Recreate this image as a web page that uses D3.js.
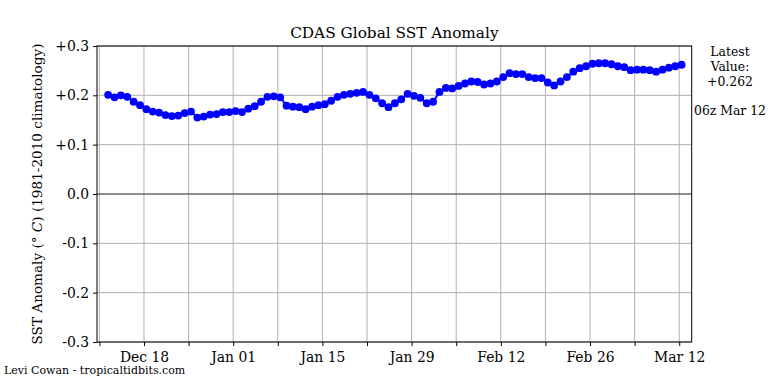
<!DOCTYPE html>
<html>
<head>
<meta charset="utf-8">
<script src="https://cdn.jsdelivr.net/npm/d3@7"></script>
<style>
  body { margin: 0; background: #fff; }
  text { font-family: "DejaVu Serif", serif; fill: #000; }
</style>
</head>
<body>
<svg id="chart" width="768" height="384"></svg>
<script>
// daily values, Dec 12 2018 -> Mar 12 2019
const startDate = "2018-12-12T09:00:00Z";
const anomalies = [
  0.201, 0.196, 0.200, 0.197, 0.187, 0.180, 0.172, 0.167, 0.165, 0.160,
  0.158, 0.159, 0.164, 0.167, 0.155, 0.157, 0.161, 0.162, 0.166, 0.166,
  0.168, 0.166, 0.173, 0.178, 0.187, 0.197, 0.198, 0.196, 0.179, 0.177,
  0.176, 0.172, 0.177, 0.180, 0.182, 0.189, 0.197, 0.201, 0.203, 0.205,
  0.207, 0.201, 0.194, 0.184, 0.176, 0.184, 0.192, 0.203, 0.199, 0.195,
  0.184, 0.187, 0.207, 0.215, 0.214, 0.219, 0.224, 0.228, 0.227, 0.222,
  0.224, 0.228, 0.237, 0.245, 0.243, 0.243, 0.237, 0.235, 0.235, 0.226,
  0.220, 0.228, 0.237, 0.248, 0.255, 0.259, 0.264, 0.265, 0.265, 0.263,
  0.259, 0.257, 0.251, 0.252, 0.252, 0.251, 0.248, 0.252, 0.256, 0.259,
  0.262
];
const yTicks = [-0.3, -0.2, -0.1, 0.0, 0.1, 0.2, 0.3];
const yTickLabels = ["-0.3", "-0.2", "-0.1", "0.0", "+0.1", "+0.2", "+0.3"];
const xTickDates = ["2018-12-11", "2018-12-18", "2018-12-25", "2019-01-01", "2019-01-08",
  "2019-01-15", "2019-01-22", "2019-01-29", "2019-02-05", "2019-02-12", "2019-02-19",
  "2019-02-26", "2019-03-05", "2019-03-12"];
const xTickLabels = ["", "Dec 18", "", "Jan 01", "", "Jan 15", "", "Jan 29", "", "Feb 12", "", "Feb 26", "", "Mar 12"];
const latestText = ["Latest", "Value:", "+0.262"];
const latestTime = "06z Mar 12";

const svg = d3.select("#chart");
const plotLeft = 97, plotRight = 691.7, plotTop = 46, plotBottom = 342;

const t0 = new Date(startDate);
const points = anomalies.map((v, i) => ({ date: new Date(t0.getTime() + i * 864e5), value: v }));

const x = d3.scaleUtc()
  .domain([new Date("2018-12-10T15:00:00Z"), new Date("2019-03-13T23:00:00Z")])
  .range([plotLeft, plotRight]);
const y = d3.scaleLinear().domain([-0.3, 0.3]).range([plotBottom, plotTop]);

// grid
const grid = svg.append("g").attr("stroke", "#b0b0b0").attr("stroke-width", 1);
grid.selectAll("line.v").data(xTickDates).join("line")
  .attr("x1", d => x(new Date(d))).attr("x2", d => x(new Date(d)))
  .attr("y1", plotTop).attr("y2", plotBottom);
grid.selectAll("line.h").data(yTicks).join("line")
  .attr("x1", plotLeft).attr("x2", plotRight)
  .attr("y1", d => y(d)).attr("y2", d => y(d));

// zero line
svg.append("line")
  .attr("x1", plotLeft).attr("x2", plotRight)
  .attr("y1", y(0)).attr("y2", y(0))
  .attr("stroke", "#444").attr("stroke-width", 1.2);

// axes
const xAxis = d3.axisBottom(x)
  .tickValues(xTickDates.map(d => new Date(d)))
  .tickFormat((d, i) => xTickLabels[i])
  .tickSizeOuter(0).tickSizeInner(4).tickPadding(6);
const gx = svg.append("g").attr("transform", `translate(0,${plotBottom})`).call(xAxis);
gx.select(".domain").remove();
gx.selectAll("text").style("font-size", "13.9px").style("font-family", "DejaVu Serif");

const yAxis = d3.axisLeft(y)
  .tickValues(yTicks)
  .tickFormat((d, i) => yTickLabels[i])
  .tickSizeOuter(0).tickSizeInner(4).tickPadding(4);
const gy = svg.append("g").attr("transform", `translate(${plotLeft},0)`).call(yAxis);
gy.select(".domain").remove();
gy.selectAll("text").style("font-size", "13.9px").style("font-family", "DejaVu Serif");

// series
const line = d3.line().x(d => x(d.date)).y(d => y(d.value));
svg.append("path").datum(points)
  .attr("fill", "none").attr("stroke", "#0000ff").attr("stroke-width", 2)
  .attr("d", line);
svg.append("g").selectAll("circle").data(points).join("circle")
  .attr("cx", d => x(d.date)).attr("cy", d => y(d.value))
  .attr("r", 3.9).attr("fill", "#0000ff");

// frame
svg.append("rect")
  .attr("x", plotLeft).attr("y", plotTop)
  .attr("width", plotRight - plotLeft).attr("height", plotBottom - plotTop)
  .attr("fill", "none").attr("stroke", "#000").attr("stroke-width", 1);

// title and labels
svg.append("text")
  .attr("x", (plotLeft + plotRight) / 2).attr("y", 38)
  .attr("text-anchor", "middle").style("font-size", "15.3px")
  .text("CDAS Global SST Anomaly");

const ylab = svg.append("text")
  .attr("transform", `translate(42,${(plotTop + plotBottom) / 2}) rotate(-90)`)
  .attr("text-anchor", "middle").style("font-size", "13.6px");
ylab.append("tspan").text("SST Anomaly (");
ylab.append("tspan").text("°");
ylab.append("tspan").text(" ");
ylab.append("tspan").style("font-style", "italic").text("C");
ylab.append("tspan").text(") (1981-2010 climatology)");

svg.append("g").selectAll("text").data(latestText).join("text")
  .attr("x", 730).attr("y", (d, i) => 56 + i * 15)
  .attr("text-anchor", "middle").style("font-size", "12.4px")
  .text(d => d);
svg.append("text")
  .attr("x", 730).attr("y", 115)
  .attr("text-anchor", "middle").style("font-size", "12.4px")
  .text(latestTime);

svg.append("text")
  .attr("x", 4).attr("y", 374)
  .style("font-size", "11px")
  .text("Levi Cowan - tropicaltidbits.com");
</script>
</body>
</html>
